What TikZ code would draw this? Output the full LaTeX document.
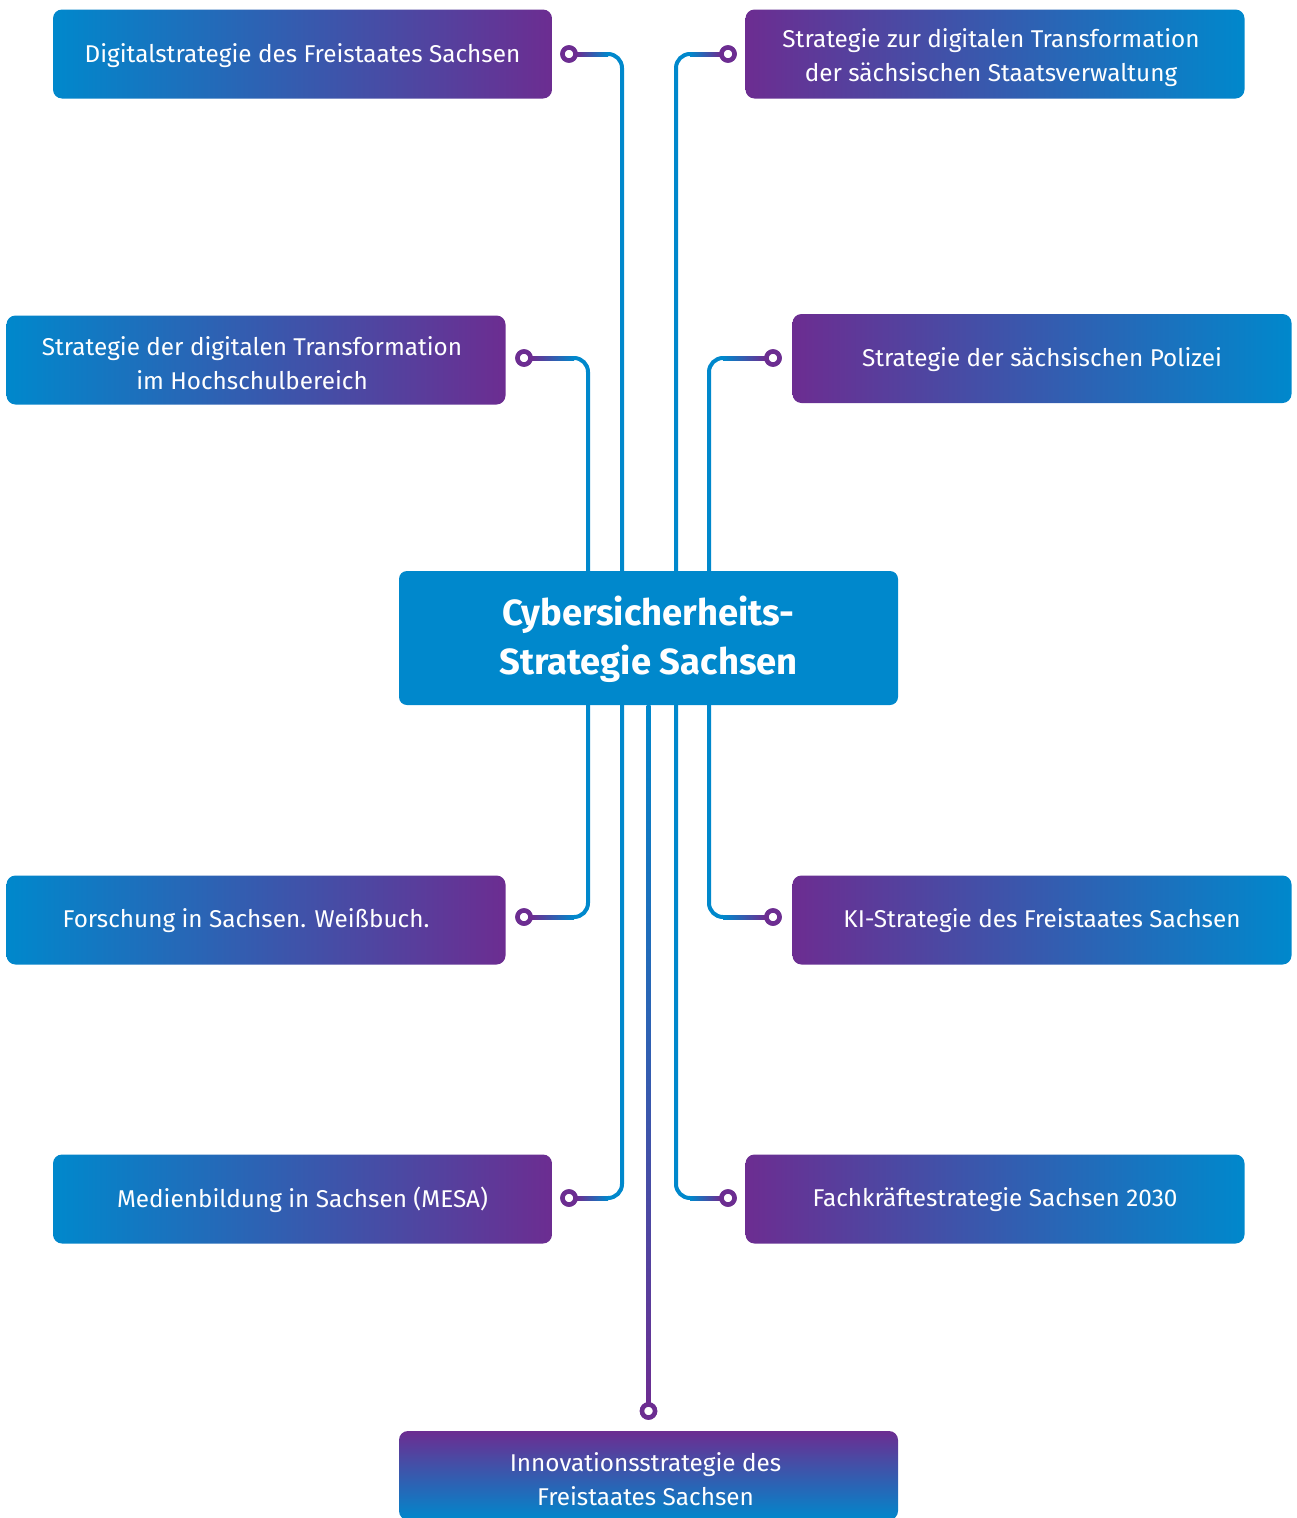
\documentclass[tikz,border=0pt]{standalone}
\usepackage{fontspec}
\setmainfont{Fira Sans}
\usetikzlibrary{calc}
\definecolor{cblue}{RGB}{0,136,204}
\definecolor{cviolet}{RGB}{108,45,145}
\newcommand{\boxfont}{\fontsize{24.3pt}{34pt}\selectfont}
\newcommand{\hubfont}{\fontsize{36.4pt}{49pt}\selectfont\bfseries}
\tikzset{
  box/.style={rounded corners=9pt, minimum width=499pt, minimum height=89pt, text=white, align=center, font=\boxfont, inner sep=0pt},
  lbox/.style={box, left color=cblue, right color=cviolet},
  rbox/.style={box, left color=cviolet, right color=cblue},
  bbox/.style={box, top color=cviolet, bottom color=cblue},
  hub/.style={rounded corners=8pt, fill=cblue, minimum width=499pt, minimum height=134pt, text=white, align=center, font=\hubfont, inner sep=0pt},
  dot/.style={circle, draw=cviolet, line width=4.5pt, fill=white, minimum size=13pt, inner sep=0pt},
  conn/.style={draw=cblue, line width=4pt, rounded corners=14pt},
  lbl/.style={text=white, align=center, font=\boxfont, inner sep=0pt, yshift=-2pt},
}
\begin{document}
\begin{tikzpicture}[x=1pt,y=-1pt]
\useasboundingbox (0,0) rectangle (1297,1518);
% hub
\node[hub] (hub) at (648.5,638) {};
\node[lbl, font=\hubfont] (hubt) at (648.5,637) {Cybersicherheits-\\Strategie Sachsen};
% boxes
\node[lbox] (b1) at (302.5,54) {};
\node[rbox] (b2) at (995,54) {};
\node[lbox] (b3) at (256,360) {};
\node[rbox] (b4) at (1042,358.5) {};
\node[lbox] (b5) at (256,920) {};
\node[rbox] (b6) at (1042,920) {};
\node[lbox] (b7) at (302.5,1199) {};
\node[rbox] (b8) at (995,1199) {};
\node[bbox] (b9) at (648.5,1475.5) {};
% labels
\node[lbl] (t1) at (302.5,54) {Digitalstrategie des Freistaates Sachsen};
\node[lbl] (t2) at (991,56) {Strategie zur digitalen Transformation\\der sächsischen Staatsverwaltung};
\node[lbl] (t3) at (252,361) {Strategie der digitalen Transformation\\im Hochschulbereich};
\node[lbl] (t4) at (1042,358) {Strategie der sächsischen Polizei};
\node[lbl] (t5) at (246,919) {Forschung in Sachsen. Weißbuch.};
\node[lbl] (t6) at (1042,919) {KI-Strategie des Freistaates Sachsen};
\node[lbl] (t7) at (302.5,1198) {Medienbildung in Sachsen (MESA)};
\node[lbl] (t8) at (995,1198) {Fachkräftestrategie Sachsen 2030};
\node[lbl] (t9) at (645.5,1477) {Innovationsstrategie des\\Freistaates Sachsen};
% vertical line x positions
\coordinate (v1) at (622,0);
\coordinate (v2) at (676,0);
\coordinate (v3) at (588,0);
\coordinate (v4) at (709,0);
\coordinate (v9) at (648.5,0);
% dots
\node[dot] (d1) at (569,54) {};
\node[dot] (d2) at (728,54) {};
\node[dot] (d3) at (524,358) {};
\node[dot] (d4) at (773,358) {};
\node[dot] (d5) at (524,917) {};
\node[dot] (d6) at (773,917) {};
\node[dot] (d7) at (569,1198) {};
\node[dot] (d8) at (728,1198) {};
\node[dot] (d9) at (648.5,1411) {};
% connectors
\draw[conn] (d1.east) -| (hub.north -| v1);
\draw[conn] (d2.west) -| (hub.north -| v2);
\draw[conn] (d3.east) -| (hub.north -| v3);
\draw[conn] (d4.west) -| (hub.north -| v4);
\draw[conn] (hub.south -| v3) |- (d5.east);
\draw[conn] (hub.south -| v4) |- (d6.west);
\draw[conn] (hub.south -| v1) |- (d7.east);
\draw[conn] (hub.south -| v2) |- (d8.west);
% gradient overlays on horizontal parts
\shade[left color=cviolet, right color=cblue] ($(d1.east)+(-1,-2)$) rectangle ($(d1 -| v1)+(-14,2)$);
\shade[left color=cblue, right color=cviolet] ($(d2 -| v2)+(14,-2)$) rectangle ($(d2.west)+(1,2)$);
\shade[left color=cviolet, right color=cblue] ($(d3.east)+(-1,-2)$) rectangle ($(d3 -| v3)+(-14,2)$);
\shade[left color=cblue, right color=cviolet] ($(d4 -| v4)+(14,-2)$) rectangle ($(d4.west)+(1,2)$);
\shade[left color=cviolet, right color=cblue] ($(d5.east)+(-1,-2)$) rectangle ($(d5 -| v3)+(-14,2)$);
\shade[left color=cblue, right color=cviolet] ($(d6 -| v4)+(14,-2)$) rectangle ($(d6.west)+(1,2)$);
\shade[left color=cviolet, right color=cblue] ($(d7.east)+(-1,-2)$) rectangle ($(d7 -| v1)+(-14,2)$);
\shade[left color=cblue, right color=cviolet] ($(d8 -| v2)+(14,-2)$) rectangle ($(d8.west)+(1,2)$);
% bottom connector
\shade[top color=cblue, bottom color=cviolet, middle color=cblue!55!cviolet] ($(hub.south -| v9)+(-2,0)$) rectangle ($(d9.north)+(2,1)$);
% redraw dots on top
\foreach \d in {d1,d2,d3,d4,d5,d6,d7,d8,d9}{
  \node[dot] at (\d) {};
}
\end{tikzpicture}
\end{document}
